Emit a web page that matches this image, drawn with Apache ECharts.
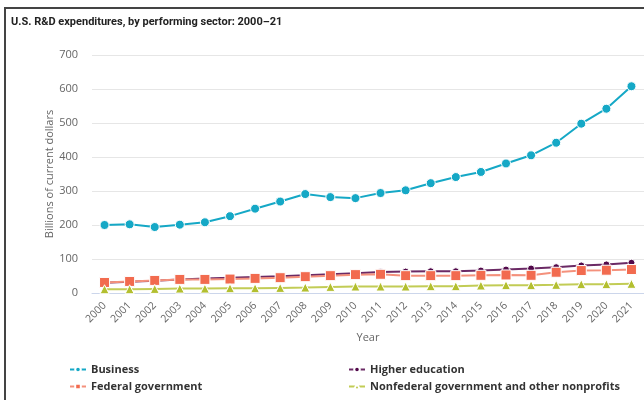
<!DOCTYPE html>
<html><head><meta charset="utf-8">
<script src="https://cdn.jsdelivr.net/npm/echarts@6/dist/echarts.min.js"></script>
<style>
html,body{margin:0;padding:0;background:#fff;}
#c{position:absolute;left:0;top:0;width:644px;height:400px;}
#frame{position:absolute;left:4px;top:7px;width:700px;height:500px;border-left:2px solid #444;border-top:2px solid #444;pointer-events:none;}
</style></head>
<body>
<div id="c"></div>
<div id="frame"></div>
<script>
const years = ['2000','2001','2002','2003','2004','2005','2006','2007','2008','2009','2010','2011','2012','2013','2014','2015','2016','2017','2018','2019','2020','2021'];
const business = [200,202,194,201,208,226,248,269,291,282,279,294,302,323,341,356,381,405,442,498,542,608];
const higherEd = [30,33,36,40,43,45,47,49,52,55,58,62,63,64,64,66,69,72,76,81,84,89];
const federal = [31,34,37,40,40,41,43,45,48,51,54,55,51,51,51,52,53,52,61,66,67,69];
const nonfederal = [11,11,12,13,13,14,14,15,16,18,19,19,19,20,20,22,23,23,24,26,26,27];
const yTicks = [0,100,200,300,400,500,600,700];
const seriesNames = ['Business','Higher education','Federal government','Nonfederal government and other nonprofits'];

const chart = echarts.init(document.getElementById('c'), null, {renderer:'canvas'});
const F = '"Open Sans", sans-serif';
function mk(name, data, color, lineColor, symbol, size){
  return {name, type:'line', data, symbol, symbolSize:size, showSymbol:true,
    itemStyle:{color:color, borderColor:'#fff', borderWidth:1},
    lineStyle:{color:lineColor, width:2}, emphasis:{disabled:true}, animation:false};
}
function lg(name, left, top){
  return {data:[name], left, top, itemWidth:16, itemHeight:7, itemGap:0, padding:0,
    textStyle:{fontFamily:F, fontSize:11, fontWeight:700, color:'#333'}};
}
chart.setOption({
  animation:false,
  title:{text:'U.S. R&D expenditures, by performing sector: 2000\u201321', left:11, top:17, padding:0,
    textStyle:{fontFamily:'Roboto', fontWeight:'bold', fontSize:11, color:'#222'}},
  grid:{left:92, right:0, top:55, bottom:107, containLabel:false},
  xAxis:{type:'category', data:years, boundaryGap:true,
    name:'Year', nameLocation:'middle', nameGap:39, nameMoveOverlap:false,
    nameTextStyle:{fontFamily:F, fontSize:11, color:'#666'},
    axisLine:{lineStyle:{color:'#ccd6eb', width:1}},
    axisTick:{alignWithLabel:true, length:8, lineStyle:{color:'#ccd6eb'}},
    axisLabel:{rotate:45, interval:0, fontFamily:F, fontSize:10.5, color:'#666', margin:11}},
  yAxis:{type:'value', min:0, max:700, interval:100,
    name:'Billions of current dollars', nameLocation:'middle', nameGap:37, nameMoveOverlap:false,
    nameTextStyle:{fontFamily:F, fontSize:11, color:'#666'},
    axisLabel:{fontFamily:F, fontSize:11, color:'#666', margin:14,
      formatter:v=>yTicks.includes(v)?String(v):''},
    splitLine:{lineStyle:{color:'#e6e6e6'}},
    axisLine:{show:false}, axisTick:{show:false}},
  legend:[
    lg(seriesNames[0], 69, 364),
    lg(seriesNames[2], 69, 381),
    lg(seriesNames[1], 348, 364),
    lg(seriesNames[3], 348, 381)
  ],
  series:[
    mk(seriesNames[0], business, '#15a8c6', '#15a8c6', 'circle', 9),
    mk(seriesNames[1], higherEd, '#52094a', '#6b2a65', 'circle', 7),
    mk(seriesNames[2], federal, '#f26b4f', '#f4917c', 'rect', 10),
    mk(seriesNames[3], nonfederal, '#b3bf2f', '#c2cc55', 'triangle', 9)
  ]
});
</script>
</body></html>
